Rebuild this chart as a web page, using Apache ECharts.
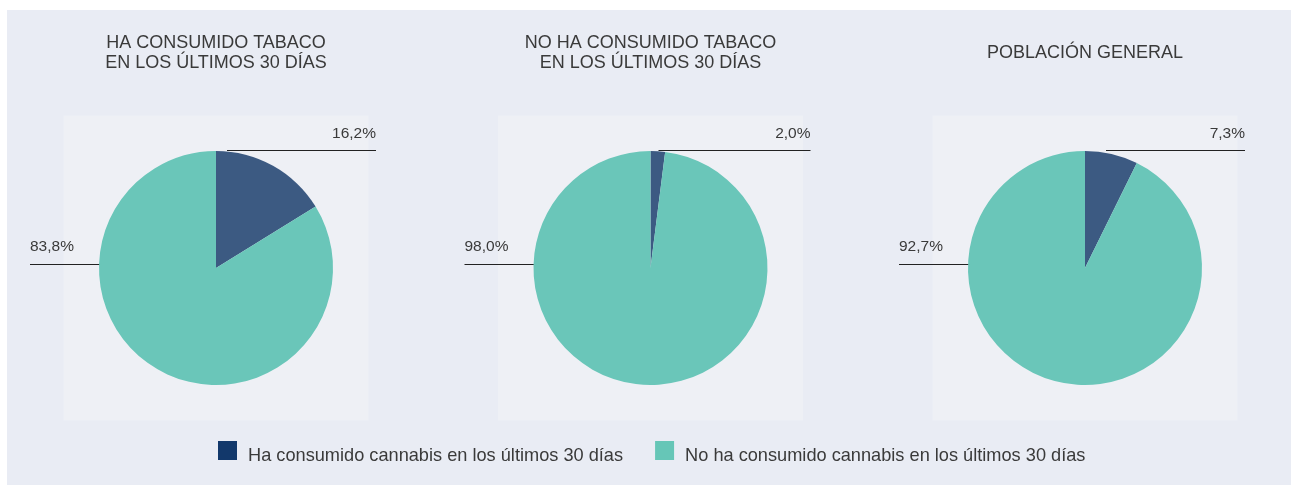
<!DOCTYPE html>
<html lang="es">
<head>
<meta charset="utf-8">
<title>Consumo de cannabis según consumo de tabaco</title>
<script src="https://cdn.jsdelivr.net/npm/echarts@6/dist/echarts.min.js"></script>
<style>
  html, body { margin: 0; padding: 0; background: #ffffff; }
  #chart { width: 1291px; height: 485px; }
</style>
</head>
<body>
<div id="chart"></div>
<script>
// Panel titles (one pie per group)
const groupTitles = [
  'HA CONSUMIDO TABACO\nEN LOS ÚLTIMOS 30 DÍAS',
  'NO HA CONSUMIDO TABACO\nEN LOS ÚLTIMOS 30 DÍAS',
  'POBLACIÓN GENERAL'
];
// Legend / slice names
const sliceNames = [
  'Ha consumido cannabis en los últimos 30 días',
  'No ha consumido cannabis en los últimos 30 días'
];
// Percentages per group
const cannabisYes = [16.2, 2.0, 7.3];
const cannabisNo  = [83.8, 98.0, 92.7];

// Layout
const FONT = '"Liberation Sans", Arial, Helvetica, sans-serif';
const TEXT = '#3a3a3a';
const centersX = [216, 650.5, 1085];
const CY = 268;
const R = 117;
const PANEL = 305;
const leaderStart = [11, 8, 21];   // where the small-slice leader starts, right of centre
const sliceColors = ['#3c5a82', '#6ac6b9'];
const legendColors = ['#12386b', '#66c6b7'];

const fmt = v => v.toFixed(1).replace('.', ',') + '%';

const chart = echarts.init(document.getElementById('chart'), null, { renderer: 'canvas' });

const graphics = [
  { type: 'rect', shape: { x: 7, y: 10, width: 1284, height: 475 },
    style: { fill: '#e9ecf4' }, z: -20, silent: true }
];
centersX.forEach(cx => {
  graphics.push({
    type: 'rect',
    shape: { x: cx - PANEL / 2, y: CY - PANEL / 2, width: PANEL, height: PANEL },
    style: { fill: '#eef0f5' }, z: -10, silent: true
  });
});

const titles = groupTitles.map((t, i) => {
  const lines = t.split('\n').length;
  return {
    text: t,
    left: centersX[i],
    top: 53 - lines * 10,
    textAlign: 'center',
    padding: 0,
    textStyle: {
      fontFamily: FONT, fontSize: 18, fontWeight: 'normal',
      color: TEXT, lineHeight: 20
    }
  };
});

const series = centersX.map((cx, i) => ({
  type: 'pie',
  center: [cx, CY],
  radius: [0, R],
  startAngle: 90,
  clockwise: true,
  silent: true,
  animation: false,
  label: {
    show: true,
    formatter: p => fmt(p.value),
    fontFamily: FONT, fontSize: 15.5, color: TEXT
  },
  labelLine: { show: true, lineStyle: { color: '#222222', width: 1 } },
  labelLayout: params => {
    if (params.dataIndex === 0) {
      const y = CY - R - 0.5;
      return {
        x: cx + 160, y: CY - R - 17.5,
        align: 'right', verticalAlign: 'middle',
        labelLinePoints: [[cx + leaderStart[i], y], [cx + 160, y], [cx + 160, y]]
      };
    }
    const y = CY - 3.5;
    return {
      x: cx - 186, y: CY - 21.5,
      align: 'left', verticalAlign: 'middle',
      labelLinePoints: [[cx - 116, y], [cx - 186, y], [cx - 186, y]]
    };
  },
  data: [
    { name: sliceNames[0], value: cannabisYes[i], itemStyle: { color: sliceColors[0] } },
    { name: sliceNames[1], value: cannabisNo[i], itemStyle: { color: sliceColors[1] } }
  ]
}));

chart.setOption({
  backgroundColor: '#ffffff',
  animation: false,
  graphic: graphics,
  title: titles,
  legend: {
    left: 218, top: 441, padding: 0,
    itemWidth: 19, itemHeight: 19, itemGap: 32,
    icon: 'rect',
    selectedMode: false,
    formatter: name => '{t|' + name + '}',
    textStyle: {
      fontFamily: FONT, fontSize: 18, color: TEXT,
      rich: { t: { fontFamily: FONT, fontSize: 18.2, color: TEXT, padding: [10, 0, 0, 6] } }
    },
    data: sliceNames.map((n, k) => ({ name: n, itemStyle: { color: legendColors[k] } }))
  },
  series: series
});
</script>
</body>
</html>
